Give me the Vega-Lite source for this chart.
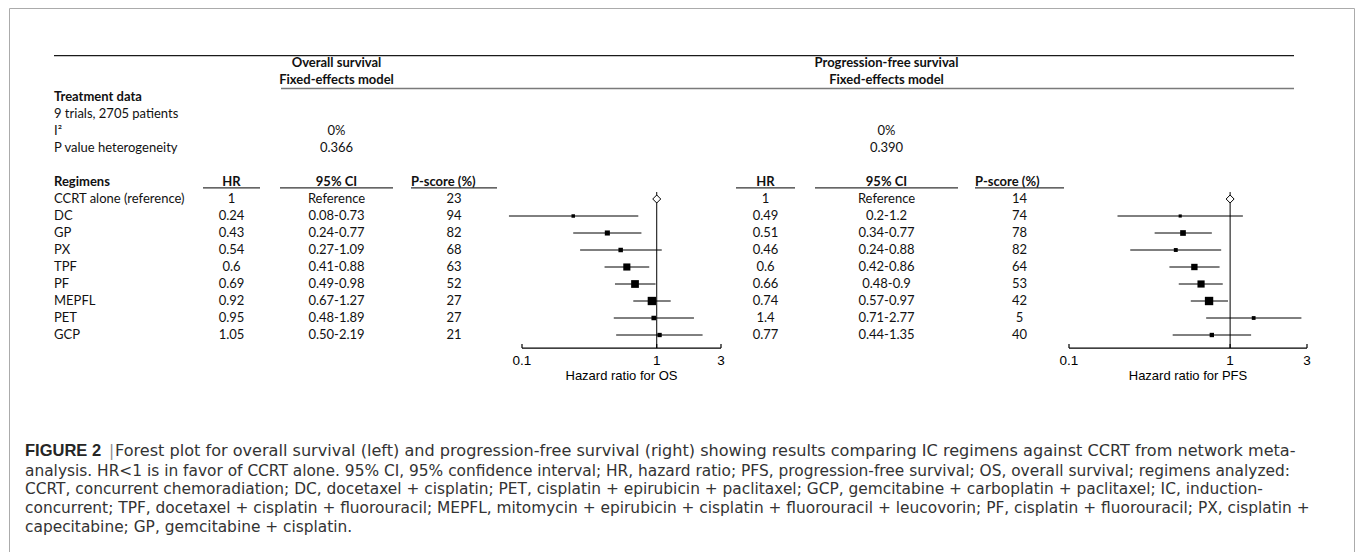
{
  "$schema": "https://vega.github.io/schema/vega-lite/v6.json",
  "width": 1345,
  "height": 544,
  "autosize": {"type": "none"},
  "padding": {"left": 9, "top": 8, "right": 1, "bottom": 0},
  "background": "white",
  "config": {
    "view": {"stroke": "#ababab", "strokeWidth": 1},
    "text": {"font": "Lato", "fontSize": 13, "color": "#111"}
  },
  "datasets": {
    "t": [
      {"row": "CCRT", "label": "CCRT alone (reference)", "hr_os": 1, "ci_os": "Reference", "p_os": 23, "lo_os": null, "hi_os": null, "w_os": null, "hr_pfs": 1, "ci_pfs": "Reference", "p_pfs": 14, "lo_pfs": null, "hi_pfs": null, "w_pfs": null},
      {"row": "DC", "label": "DC", "hr_os": 0.24, "ci_os": "0.08-0.73", "p_os": 94, "lo_os": 0.08, "hi_os": 0.73, "w_os": 3.1, "hr_pfs": 0.49, "ci_pfs": "0.2-1.2", "p_pfs": 74, "lo_pfs": 0.2, "hi_pfs": 1.2, "w_pfs": 4.8},
      {"row": "GP", "label": "GP", "hr_os": 0.43, "ci_os": "0.24-0.77", "p_os": 82, "lo_os": 0.24, "hi_os": 0.77, "w_os": 11.3, "hr_pfs": 0.51, "ci_pfs": "0.34-0.77", "p_pfs": 78, "lo_pfs": 0.34, "hi_pfs": 0.77, "w_pfs": 23},
      {"row": "PX", "label": "PX", "hr_os": 0.54, "ci_os": "0.27-1.09", "p_os": 68, "lo_os": 0.27, "hi_os": 1.09, "w_os": 7.9, "hr_pfs": 0.46, "ci_pfs": "0.24-0.88", "p_pfs": 82, "lo_pfs": 0.24, "hi_pfs": 0.88, "w_pfs": 9.1},
      {"row": "TPF", "label": "TPF", "hr_os": 0.6, "ci_os": "0.41-0.88", "p_os": 63, "lo_os": 0.41, "hi_os": 0.88, "w_os": 26.3, "hr_pfs": 0.6, "ci_pfs": "0.42-0.86", "p_pfs": 64, "lo_pfs": 0.42, "hi_pfs": 0.86, "w_pfs": 29.9},
      {"row": "PF", "label": "PF", "hr_os": 0.69, "ci_os": "0.49-0.98", "p_os": 52, "lo_os": 0.49, "hi_os": 0.98, "w_os": 32, "hr_pfs": 0.66, "ci_pfs": "0.48-0.9", "p_pfs": 53, "lo_pfs": 0.48, "hi_pfs": 0.9, "w_pfs": 38.8},
      {"row": "MEPFL", "label": "MEPFL", "hr_os": 0.92, "ci_os": "0.67-1.27", "p_os": 27, "lo_os": 0.67, "hi_os": 1.27, "w_os": 37.6, "hr_pfs": 0.74, "ci_pfs": "0.57-0.97", "p_pfs": 42, "lo_pfs": 0.57, "hi_pfs": 0.97, "w_pfs": 54},
      {"row": "PET", "label": "PET", "hr_os": 0.95, "ci_os": "0.48-1.89", "p_os": 27, "lo_os": 0.48, "hi_os": 1.89, "w_os": 8.2, "hr_pfs": 1.4, "ci_pfs": "0.71-2.77", "p_pfs": 5, "lo_pfs": 0.71, "hi_pfs": 2.77, "w_pfs": 8.3},
      {"row": "GCP", "label": "GCP", "hr_os": 1.05, "ci_os": "0.50-2.19", "p_os": 21, "lo_os": 0.5, "hi_os": 2.19, "w_os": 7.0, "hr_pfs": 0.77, "ci_pfs": "0.44-1.35", "p_pfs": 40, "lo_pfs": 0.44, "hi_pfs": 1.35, "w_pfs": 12.2}
    ],
    "tk": [{"v": 0.1, "row": "r17"}, {"v": 1, "row": "r17"}, {"v": 3, "row": "r17"}]
  },
  "encoding": {
    "y": {
      "field": "row", "type": "nominal",
      "scale": {"type": "band", "domain": ["ovs","fem","td","trials","i2","pval","gap","reg","CCRT","DC","GP","PX","TPF","PF","MEPFL","PET","GCP","r17","r18","r19","r20","r21","r22","r23","r24"], "range": [46.5, 471.5], "paddingInner": 0, "paddingOuter": 0},
      "axis": null
    }
  },
  "resolve": {"scale": {"x": "independent", "size": "independent"}},
  "layer": [
    {
      "encoding": {"x": {"datum": "c", "type": "nominal", "scale": {"type": "point", "domain": ["c"], "range": [45, 45]}, "axis": null}},
      "layer": [
        {"data": {"values": [{"row": "td", "text": "Treatment data"}, {"row": "reg", "text": "Regimens"}]}, "mark": {"type": "text", "align": "left", "fontWeight": "bold"}, "encoding": {"text": {"field": "text"}}},
        {"data": {"values": [{"row": "trials", "text": "9 trials, 2705 patients"}, {"row": "i2", "text": "I²"}, {"row": "pval", "text": "P value heterogeneity"}]}, "mark": {"type": "text", "align": "left"}, "encoding": {"text": {"field": "text"}}},
        {"data": {"name": "t"}, "mark": {"type": "text", "align": "left"}, "encoding": {"text": {"field": "label"}}}
      ]
    },
    {
      "encoding": {"x": {"datum": "c", "type": "nominal", "scale": {"type": "point", "domain": ["l", "c", "r"], "range": [194, 251], "padding": 0}, "axis": null}},
      "layer": [
        {"data": {"values": [{"row": "reg", "text": "HR"}]}, "mark": {"type": "text", "fontWeight": "bold"}, "encoding": {"text": {"field": "text"}}},
        {"data": {"name": "t"}, "mark": {"type": "text"}, "encoding": {"text": {"field": "hr_os", "type": "nominal"}}},
        {"data": {"values": [{"u": 1}]}, "mark": {"type": "rule", "color": "#333", "strokeWidth": 1.2}, "encoding": {"x": {"datum": "l"}, "x2": {"datum": "r"}, "y": {"datum": "reg", "bandPosition": 0.85}}}
      ]
    },
    {
      "encoding": {"x": {"datum": "c", "type": "nominal", "scale": {"type": "point", "domain": ["l", "c", "r"], "range": [271, 384], "padding": 0}, "axis": null}},
      "layer": [
        {"data": {"values": [{"row": "ovs", "text": "Overall survival"}, {"row": "fem", "text": "Fixed-effects model"}, {"row": "reg", "text": "95% CI"}]}, "mark": {"type": "text", "fontWeight": "bold"}, "encoding": {"text": {"field": "text"}}},
        {"data": {"values": [{"row": "i2", "text": "0%"}, {"row": "pval", "text": "0.366"}]}, "mark": {"type": "text"}, "encoding": {"text": {"field": "text"}}},
        {"data": {"name": "t"}, "mark": {"type": "text"}, "encoding": {"text": {"field": "ci_os", "type": "nominal"}}},
        {"data": {"values": [{"u": 1}]}, "mark": {"type": "rule", "color": "#333", "strokeWidth": 1.2}, "encoding": {"x": {"datum": "l"}, "x2": {"datum": "r"}, "y": {"datum": "reg", "bandPosition": 0.85}}}
      ]
    },
    {
      "encoding": {"x": {"datum": "c", "type": "nominal", "scale": {"type": "point", "domain": ["l", "c", "r"], "range": [402, 488], "padding": 0}, "axis": null}},
      "layer": [
        {"data": {"values": [{"row": "reg", "text": "P-score (%)"}]}, "mark": {"type": "text", "fontWeight": "bold", "align": "left"}, "encoding": {"x": {"datum": "l"}, "text": {"field": "text"}}},
        {"data": {"name": "t"}, "mark": {"type": "text"}, "encoding": {"text": {"field": "p_os", "type": "nominal"}}},
        {"data": {"values": [{"u": 1}]}, "mark": {"type": "rule", "color": "#333", "strokeWidth": 1.2}, "encoding": {"x": {"datum": "l"}, "x2": {"datum": "r"}, "y": {"datum": "reg", "bandPosition": 0.85}}}
      ]
    },
    {
      "encoding": {"x": {"datum": "c", "type": "nominal", "scale": {"type": "point", "domain": ["l", "c", "r"], "range": [727, 786], "padding": 0}, "axis": null}},
      "layer": [
        {"data": {"values": [{"row": "reg", "text": "HR"}]}, "mark": {"type": "text", "fontWeight": "bold"}, "encoding": {"text": {"field": "text"}}},
        {"data": {"name": "t"}, "mark": {"type": "text"}, "encoding": {"text": {"field": "hr_pfs", "type": "nominal"}}},
        {"data": {"values": [{"u": 1}]}, "mark": {"type": "rule", "color": "#333", "strokeWidth": 1.2}, "encoding": {"x": {"datum": "l"}, "x2": {"datum": "r"}, "y": {"datum": "reg", "bandPosition": 0.85}}}
      ]
    },
    {
      "encoding": {"x": {"datum": "c", "type": "nominal", "scale": {"type": "point", "domain": ["l", "c", "r"], "range": [806, 949], "padding": 0}, "axis": null}},
      "layer": [
        {"data": {"values": [{"row": "ovs", "text": "Progression-free survival"}, {"row": "fem", "text": "Fixed-effects model"}, {"row": "reg", "text": "95% CI"}]}, "mark": {"type": "text", "fontWeight": "bold"}, "encoding": {"text": {"field": "text"}}},
        {"data": {"values": [{"row": "i2", "text": "0%"}, {"row": "pval", "text": "0.390"}]}, "mark": {"type": "text"}, "encoding": {"text": {"field": "text"}}},
        {"data": {"name": "t"}, "mark": {"type": "text"}, "encoding": {"text": {"field": "ci_pfs", "type": "nominal"}}},
        {"data": {"values": [{"u": 1}]}, "mark": {"type": "rule", "color": "#333", "strokeWidth": 1.2}, "encoding": {"x": {"datum": "l"}, "x2": {"datum": "r"}, "y": {"datum": "reg", "bandPosition": 0.85}}}
      ]
    },
    {
      "encoding": {"x": {"datum": "c", "type": "nominal", "scale": {"type": "point", "domain": ["l", "c", "r"], "range": [966, 1055], "padding": 0}, "axis": null}},
      "layer": [
        {"data": {"values": [{"row": "reg", "text": "P-score (%)"}]}, "mark": {"type": "text", "fontWeight": "bold", "align": "left"}, "encoding": {"x": {"datum": "l"}, "text": {"field": "text"}}},
        {"data": {"name": "t"}, "mark": {"type": "text"}, "encoding": {"text": {"field": "p_pfs", "type": "nominal"}}},
        {"data": {"values": [{"u": 1}]}, "mark": {"type": "rule", "color": "#333", "strokeWidth": 1.2}, "encoding": {"x": {"datum": "l"}, "x2": {"datum": "r"}, "y": {"datum": "reg", "bandPosition": 0.85}}}
      ]
    },
    {
      "data": {"values": [{"u": 1}]},
      "mark": {"type": "rule", "color": "#1a1a1a", "strokeWidth": 1.2},
      "encoding": {
        "x": {"datum": "l", "type": "nominal", "scale": {"type": "point", "domain": ["l", "r"], "range": [45, 1285], "padding": 0}, "axis": null},
        "x2": {"datum": "r"},
        "y": {"datum": "ovs", "bandPosition": 0.07}
      }
    },
    {
      "data": {"values": [{"u": 1}]},
      "mark": {"type": "rule", "color": "#7a7a7a", "strokeWidth": 1.6},
      "encoding": {
        "x": {"datum": "l", "type": "nominal", "scale": {"type": "point", "domain": ["l", "r"], "range": [272, 1285], "padding": 0}, "axis": null},
        "x2": {"datum": "r"},
        "y": {"datum": "td", "bandPosition": 0}
      }
    },
    {
      "data": {"values": [{"row": "r17"}]},
      "mark": {"type": "rule", "color": "black", "strokeWidth": 1.2},
      "encoding": {
        "x": {"datum": "l", "type": "nominal", "scale": {"type": "point", "domain": ["l", "r"], "range": [513, 712], "padding": 0}, "axis": null},
        "x2": {"datum": "r"},
        "y": {"field": "row", "type": "nominal", "bandPosition": 0.27}
      }
    },
    {
      "data": {"values": [{"row": "r17"}]},
      "mark": {"type": "rule", "color": "black", "strokeWidth": 1.2},
      "encoding": {
        "x": {"datum": "l", "type": "nominal", "scale": {"type": "point", "domain": ["l", "r"], "range": [1060, 1298], "padding": 0}, "axis": null},
        "x2": {"datum": "r"},
        "y": {"field": "row", "type": "nominal", "bandPosition": 0.27}
      }
    },
    {
      "data": {"name": "t"},
      "layer": [
        {"transform": [{"filter": "isValid(datum.lo_os)"}], "mark": {"type": "rule", "color": "black", "strokeWidth": 1}, "encoding": {"x": {"field": "lo_os", "type": "quantitative", "scale": {"type": "log", "domain": [0.1, 3], "range": [513, 712]}, "axis": null}, "x2": {"field": "hi_os"}}},
        {"data": {"values": [{"u": 1}]}, "mark": {"type": "rule", "color": "black", "strokeWidth": 1}, "encoding": {"x": {"datum": 1, "type": "quantitative", "scale": {"type": "log", "domain": [0.1, 3], "range": [513, 712]}, "axis": null}, "y": {"datum": "CCRT", "bandPosition": 0.09}, "y2": {"datum": "r17", "bandPosition": 0.27}}},
        {"data": {"name": "tk"}, "mark": {"type": "point", "shape": "M0,-1L0,0", "filled": false, "color": "black", "strokeWidth": 1.2, "size": 64, "opacity": 1}, "encoding": {"x": {"field": "v", "type": "quantitative", "scale": {"type": "log", "domain": [0.1, 3], "range": [513, 712]}, "axis": null}, "y": {"field": "row", "type": "nominal", "bandPosition": 0.27}}},
        {"data": {"name": "tk"}, "mark": {"type": "text", "font": "Liberation Sans", "fontSize": 13.5, "color": "black"}, "encoding": {"x": {"field": "v", "type": "quantitative", "scale": {"type": "log", "domain": [0.1, 3], "range": [513, 712]}, "axis": null}, "y": {"datum": "r18", "bandPosition": 0.03}, "text": {"field": "v", "type": "nominal"}}},
        {"data": {"values": [{"text": "Hazard ratio for OS"}]}, "mark": {"type": "text", "font": "Liberation Sans", "fontSize": 13, "color": "black"}, "encoding": {"x": {"datum": 0.5477, "type": "quantitative", "scale": {"type": "log", "domain": [0.1, 3], "range": [513, 712]}, "axis": null}, "y": {"datum": "r18", "bandPosition": 0.91}, "text": {"field": "text"}}},
        {"transform": [{"filter": "isValid(datum.w_os)"}], "mark": {"type": "point", "shape": "square", "filled": true, "color": "black", "opacity": 1}, "encoding": {
          "x": {"field": "hr_os", "type": "quantitative", "scale": {"type": "log", "domain": [0.1, 3], "range": [513, 712]}, "axis": null},
          "size": {"field": "w_os", "type": "quantitative", "scale": {"domain": [3, 38], "range": [12, 70]}, "legend": null}}},
        {"transform": [{"filter": "datum.row === 'CCRT'"}], "mark": {"type": "point", "shape": "diamond", "filled": true, "fill": "white", "stroke": "black", "strokeWidth": 1, "size": 64, "opacity": 1}, "encoding": {"x": {"field": "hr_os", "type": "quantitative", "scale": {"type": "log", "domain": [0.1, 3], "range": [513, 712]}, "axis": null}}}
      ]
    },
    {
      "data": {"name": "t"},
      "layer": [
        {"transform": [{"filter": "isValid(datum.lo_pfs)"}], "mark": {"type": "rule", "color": "black", "strokeWidth": 1}, "encoding": {"x": {"field": "lo_pfs", "type": "quantitative", "scale": {"type": "log", "domain": [0.1, 3], "range": [1060, 1298]}, "axis": null}, "x2": {"field": "hi_pfs"}}},
        {"data": {"values": [{"u": 1}]}, "mark": {"type": "rule", "color": "black", "strokeWidth": 1}, "encoding": {"x": {"datum": 1, "type": "quantitative", "scale": {"type": "log", "domain": [0.1, 3], "range": [1060, 1298]}, "axis": null}, "y": {"datum": "CCRT", "bandPosition": 0.09}, "y2": {"datum": "r17", "bandPosition": 0.27}}},
        {"data": {"name": "tk"}, "mark": {"type": "point", "shape": "M0,-1L0,0", "filled": false, "color": "black", "strokeWidth": 1.2, "size": 64, "opacity": 1}, "encoding": {"x": {"field": "v", "type": "quantitative", "scale": {"type": "log", "domain": [0.1, 3], "range": [1060, 1298]}, "axis": null}, "y": {"field": "row", "type": "nominal", "bandPosition": 0.27}}},
        {"data": {"name": "tk"}, "mark": {"type": "text", "font": "Liberation Sans", "fontSize": 13.5, "color": "black"}, "encoding": {"x": {"field": "v", "type": "quantitative", "scale": {"type": "log", "domain": [0.1, 3], "range": [1060, 1298]}, "axis": null}, "y": {"datum": "r18", "bandPosition": 0.03}, "text": {"field": "v", "type": "nominal"}}},
        {"data": {"values": [{"text": "Hazard ratio for PFS"}]}, "mark": {"type": "text", "font": "Liberation Sans", "fontSize": 13, "color": "black"}, "encoding": {"x": {"datum": 0.5477, "type": "quantitative", "scale": {"type": "log", "domain": [0.1, 3], "range": [1060, 1298]}, "axis": null}, "y": {"datum": "r18", "bandPosition": 0.91}, "text": {"field": "text"}}},
        {"transform": [{"filter": "isValid(datum.w_pfs)"}], "mark": {"type": "point", "shape": "square", "filled": true, "color": "black", "opacity": 1}, "encoding": {
          "x": {"field": "hr_pfs", "type": "quantitative", "scale": {"type": "log", "domain": [0.1, 3], "range": [1060, 1298]}, "axis": null},
          "size": {"field": "w_pfs", "type": "quantitative", "scale": {"domain": [4.8, 54], "range": [10, 70]}, "legend": null}}},
        {"transform": [{"filter": "datum.row === 'CCRT'"}], "mark": {"type": "point", "shape": "diamond", "filled": true, "fill": "white", "stroke": "black", "strokeWidth": 1, "size": 64, "opacity": 1}, "encoding": {"x": {"field": "hr_pfs", "type": "quantitative", "scale": {"type": "log", "domain": [0.1, 3], "range": [1060, 1298]}, "axis": null}}}
      ]
    },
    {
      "encoding": {"x": {"datum": "c", "type": "nominal", "scale": {"type": "point", "domain": ["c"], "range": [16, 16]}, "axis": null}},
      "layer": [
        {"data": {"values": [{"text": "FIGURE 2"}]}, "mark": {"type": "text", "align": "left", "baseline": "top", "font": "Liberation Sans", "fontSize": 16.5, "fontWeight": "bold", "color": "#262626"}, "encoding": {"y": {"datum": "r22", "bandPosition": 0.88}, "text": {"field": "text"}}},
        {"data": {"values": [{"text": "|"}]}, "mark": {"type": "text", "align": "left", "baseline": "top", "font": "DejaVu Sans", "fontSize": 15.4, "dx": 84, "color": "#8c8c8c"}, "encoding": {"y": {"datum": "r22", "bandPosition": 0.91}, "text": {"field": "text"}}},
        {"data": {"values": [{"text": "Forest plot for overall survival (left) and progression-free survival (right) showing results comparing IC regimens against CCRT from network meta-"}]}, "mark": {"type": "text", "align": "left", "baseline": "top", "font": "DejaVu Sans", "fontSize": 16.1, "dx": 90, "color": "#333"}, "encoding": {"y": {"datum": "r22", "bandPosition": 0.87}, "text": {"field": "text"}}},
        {"data": {"values": [{"text": "analysis. HR<1 is in favor of CCRT alone. 95% CI, 95% confidence interval; HR, hazard ratio; PFS, progression-free survival; OS, overall survival; regimens analyzed:\nCCRT, concurrent chemoradiation; DC, docetaxel + cisplatin; PET, cisplatin + epirubicin + paclitaxel; GCP, gemcitabine + carboplatin + paclitaxel; IC, induction-\nconcurrent; TPF, docetaxel + cisplatin + fluorouracil; MEPFL, mitomycin + epirubicin + cisplatin + fluorouracil + leucovorin; PF, cisplatin + fluorouracil; PX, cisplatin +\ncapecitabine; GP, gemcitabine + cisplatin."}]}, "mark": {"type": "text", "align": "left", "baseline": "top", "font": "DejaVu Sans", "fontSize": 15.4, "lineBreak": "\n", "lineHeight": 18.8, "color": "#333"}, "encoding": {"y": {"datum": "r24", "bandPosition": 0.06}, "text": {"field": "text"}}}
      ]
    }
  ]
}
